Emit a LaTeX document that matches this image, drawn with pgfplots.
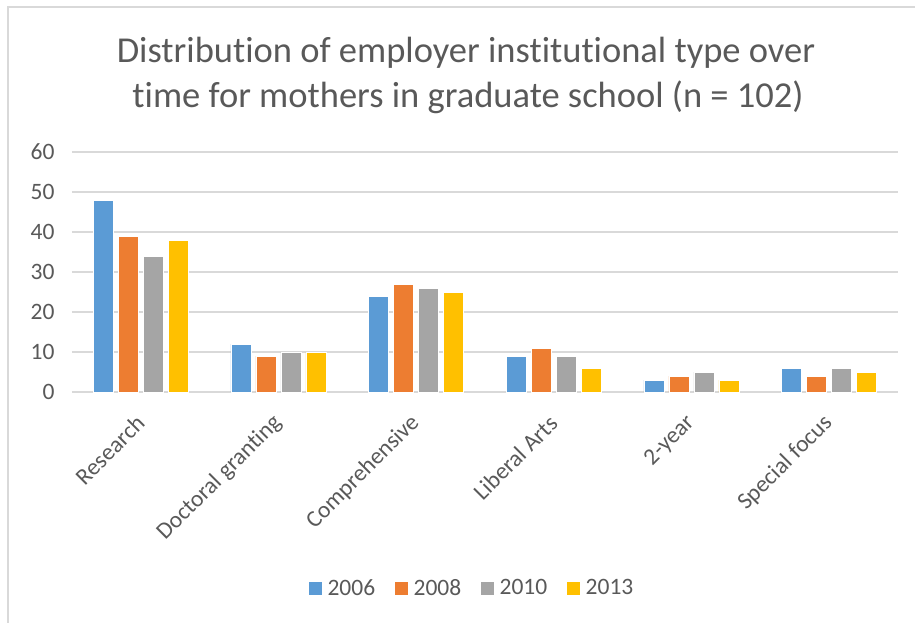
\documentclass[border=0pt]{standalone}
\usepackage{pgfplots}
\pgfplotsset{compat=1.18}
\usepackage{fontspec}
\setmainfont{Carlito}[Ligatures=NoCommon]

\definecolor{c2006}{HTML}{5B9BD5}
\definecolor{c2008}{HTML}{ED7D31}
\definecolor{c2010}{HTML}{A5A5A5}
\definecolor{c2013}{HTML}{FFC000}
\definecolor{txt}{HTML}{595959}
\definecolor{gridc}{HTML}{D9D9D9}

\begin{document}
\begin{tikzpicture}
\begin{axis}[
    name=ax,
    scale only axis,
    width=826pt, height=240pt,
    ybar=5pt,
    bar width=20pt,
    xmin=-0.5, xmax=5.5,
    ymin=0, ymax=60,
    ytick={0,10,...,60},
    xtick=data,
    xticklabels={Research, Doctoral granting, Comprehensive, Liberal Arts, 2-year, Special focus},
    axis line style={draw=none},
    major tick length=0pt,
    ymajorgrids,
    grid style={gridc, line width=1.3pt},
    yticklabel style={font=\fontsize{23.5}{23.5}\selectfont, text=txt, xshift=-14pt},
    xticklabel style={font=\fontsize{23.5}{23.5}\selectfont, text=txt, xshift=2pt, yshift=-25pt, rotate=45, anchor=east},
    /pgf/number format/assume math mode=true,
    legend style={at={(0.484,-0.817)}, anchor=center, draw=none, fill=none,
        legend columns=4, font=\fontsize{23.5}{23.5}\selectfont, text=txt,
        /tikz/every odd column/.append style={column sep=3pt},
        /tikz/every even column/.append style={column sep=17pt}},
    legend image code/.code={\fill[#1] (0pt,-7pt) rectangle (14pt,7pt);},
    legend cell align=left,
]
\addplot[fill=c2006, draw=white, line width=0.4pt] coordinates {(0,48) (1,12) (2,24) (3,9) (4,3) (5,6)};
\addplot[fill=c2008, draw=white, line width=0.4pt] coordinates {(0,39) (1,9) (2,27) (3,11) (4,4) (5,4)};
\addplot[fill=c2010, draw=white, line width=0.4pt] coordinates {(0,34) (1,10) (2,26) (3,9) (4,5) (5,6)};
\addplot[fill=c2013, draw=white, line width=0.4pt] coordinates {(0,38) (1,10) (2,25) (3,6) (4,3) (5,5)};
\legend{2006, 2008, 2010, 2013}
\end{axis}
% page frame in pixel-like units: (0,0) is the lower left corner of the image
\begin{scope}[shift={(ax.origin)}, xshift=-140.8pt, yshift=-230pt, x=1pt, y=1pt]
\draw[gridc, line width=2pt] (8,-5) -- (8,615) -- (920,615);
\node[text=txt, font=\fontsize{36.5}{36.5}\selectfont, anchor=base] at (466,559)
  {Distribution of employer institutional type over};
\node[text=txt, font=\fontsize{36.5}{36.5}\selectfont, anchor=base] at (468,514)
  {time for mothers in graduate school (n = 102)};
\pgfresetboundingbox
\path[use as bounding box] (0,0) rectangle (915,622);
\end{scope}
\end{tikzpicture}
\end{document}
